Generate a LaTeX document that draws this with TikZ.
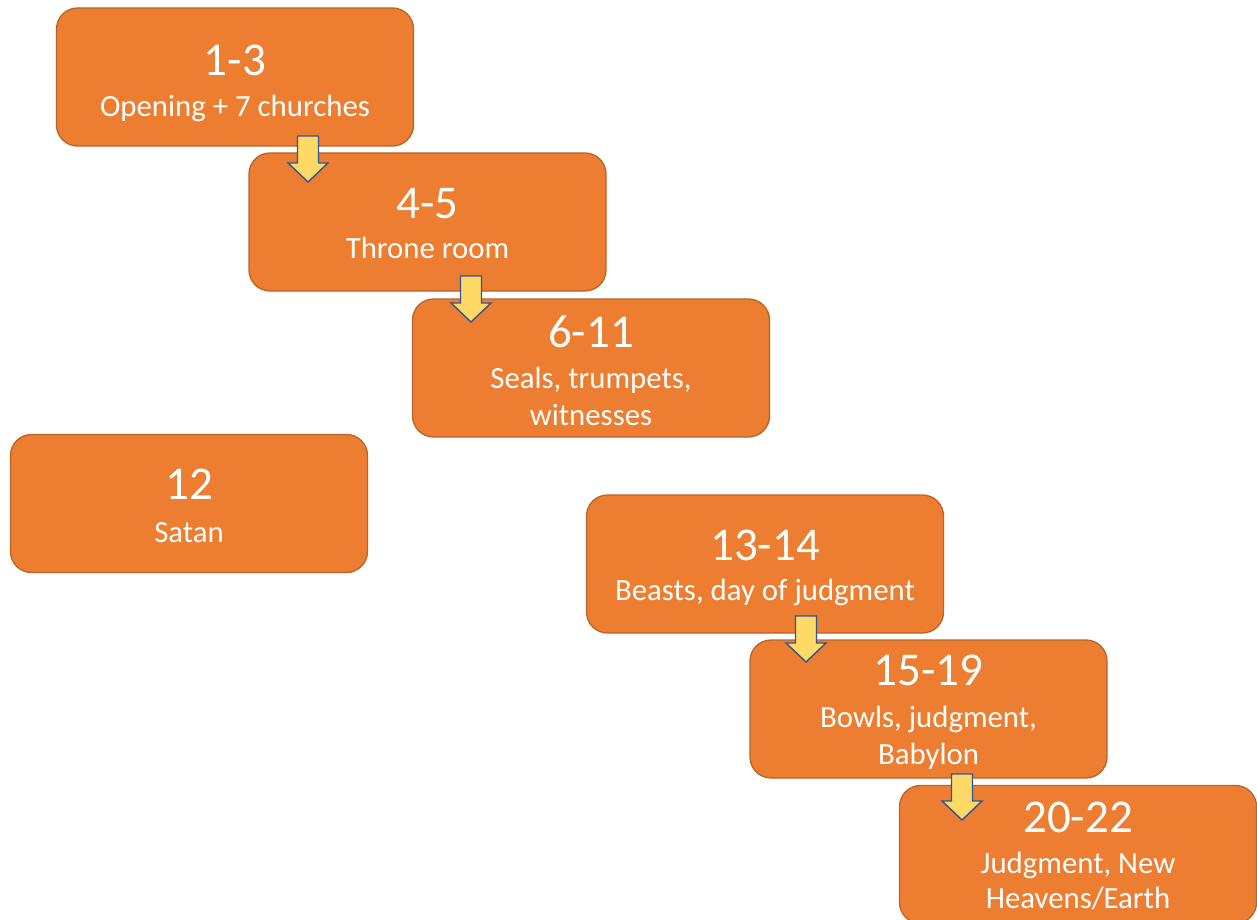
\documentclass[tikz,border=0pt]{standalone}
\usepackage{fontspec}
\setmainfont{Carlito}
\definecolor{boxfill}{HTML}{ED7D31}
\definecolor{boxline}{HTML}{B8642A}
\definecolor{arrfill}{HTML}{FFD966}
\definecolor{arrline}{HTML}{2F5597}
\begin{document}
\begin{tikzpicture}[x=1pt,y=-1pt,
  chapbox/.style={draw=boxline, fill=boxfill, line width=1.3pt, rounded corners=21pt, inner sep=0pt, minimum width=357pt, minimum height=138pt},
  numtxt/.style={anchor=base, text=white, inner sep=0pt, font=\fontsize{47}{56}\selectfont},
  labtxt/.style={anchor=base, text=white, inner sep=0pt, font=\fontsize{30.8}{37}\selectfont},
  blockarrow/.pic={\draw[draw=arrline, fill=arrfill, line width=1.4pt, line join=miter]
     (-10.5,0) -- (10.5,0) -- (10.5,27) -- (20,27) -- (0,46) -- (-20,27) -- (-10.5,27) -- cycle;}]
\useasboundingbox (0,0) rectangle (1257,920);
% boxes
\node[chapbox] (b1) at (235,77) {};
\node[chapbox] (b2) at (427.5,222) {};
\node[chapbox] (b3) at (591,368) {};
\node[chapbox] (b4) at (189,503.5) {};
\node[chapbox] (b5) at (765,564) {};
\node[chapbox] (b6) at (928.5,709) {};
\node[chapbox] (b7) at (1078,854.5) {};
% texts
\node[numtxt] (n1) at (235,76) {1-3};
\node[labtxt] (l1) at (235,117) {Opening + 7 churches};
\node[numtxt] (n2) at (427.5,218) {4-5};
\node[labtxt] (l2) at (427.5,258) {Throne room};
\node[numtxt] (n3) at (591,347) {6-11};
\node[labtxt] (l3a) at (591,388) {Seals, trumpets,};
\node[labtxt] (l3b) at (591,425) {witnesses};
\node[numtxt] (n4) at (189,499) {12};
\node[labtxt] (l4) at (189,542) {Satan};
\node[numtxt] (n5) at (765,560) {13-14};
\node[labtxt] (l5) at (765,600) {Beasts, day of judgment};
\node[numtxt] (n6) at (928.5,685) {15-19};
\node[labtxt] (l6a) at (928.5,727) {Bowls, judgment,};
\node[labtxt] (l6b) at (928.5,764) {Babylon};
\node[numtxt] (n7) at (1078,832) {20-22};
\node[labtxt] (l7a) at (1078,873) {Judgment, New};
\node[labtxt] (l7b) at (1078,908) {Heavens/Earth};
% arrows
\pic at (308,136) {blockarrow};
\pic at (471,276) {blockarrow};
\pic at (806,616) {blockarrow};
\pic at (962,774) {blockarrow};
\end{tikzpicture}
\end{document}
